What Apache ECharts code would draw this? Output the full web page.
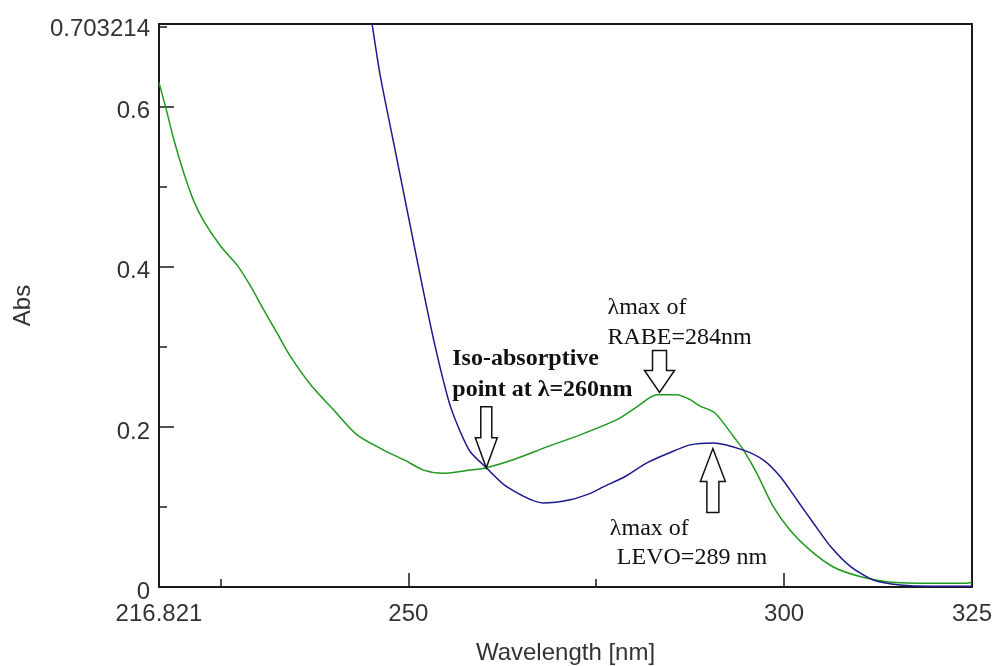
<!DOCTYPE html>
<html>
<head>
<meta charset="utf-8">
<title>RABE / LEVO overlain spectra</title>
<script src="https://cdn.jsdelivr.net/npm/echarts@6/dist/echarts.min.js"></script>
<style>
  html, body { margin: 0; padding: 0; background: #fff; }
  #chart { width: 994px; height: 666px; }
</style>
</head>
<body>
<div id="chart"></div>
<script>
// RABE spectrum (green)
var rabeWl = [216.82, 217.69, 218.79, 220.12, 221.45, 222.78, 225.0, 227.22, 228.99, 230.76,
  232.54, 234.31, 236.97, 240.07, 243.18, 246.71, 249.38, 252.04, 254.69, 258.24,
  260.37, 263.96, 268.44, 272.87, 277.75, 280.4, 283.07, 285.73, 287.5, 288.83,
  290.56, 291.5, 293.26, 294.6, 296.37, 298.58, 300.8, 303.45, 306.55, 310.1,
  313.65, 319.85, 324.3, 325];
var rabeAbs = [0.630, 0.600, 0.559, 0.517, 0.482, 0.457, 0.426, 0.402, 0.376, 0.346,
  0.317, 0.288, 0.253, 0.221, 0.190, 0.171, 0.159, 0.146, 0.142, 0.146,
  0.149, 0.159, 0.175, 0.190, 0.209, 0.225, 0.240, 0.240, 0.234, 0.226,
  0.219, 0.210, 0.188, 0.171, 0.142, 0.100, 0.071, 0.046, 0.025, 0.013,
  0.0066, 0.0046, 0.0046, 0.006];

// LEVO spectrum (blue)
var levoWl = [244.0, 245.17, 246.27, 248.04, 249.83, 251.6, 253.46, 255.45, 256.91, 258.24,
  260.37, 263.13, 267.95, 271.54, 274.2, 275.93, 278.85, 281.74, 284.6, 287.5,
  290.56, 294.59, 297.25, 299.47, 301.69, 303.89, 306.19, 308.85, 311.87, 315.45,
  319.85, 325];
var levoAbs = [0.773, 0.7034, 0.638, 0.555, 0.471, 0.388, 0.305, 0.230, 0.194, 0.169,
  0.149, 0.125, 0.105, 0.109, 0.117, 0.125, 0.138, 0.155, 0.167, 0.1775,
  0.180, 0.171, 0.1585, 0.138, 0.109, 0.080, 0.0505, 0.0254, 0.0088, 0.0025,
  0.001, 0.001];

// axis ticks and labels
var xMin = 216.821, xMax = 325;
var yMin = 0, yMax = 0.703214;
var xLabelValues = [216.821, 250, 300, 325];
var xMajorTicks = [250, 300];
var xMinorTicks = [225, 275];
var yLabelValues = [0, 0.2, 0.4, 0.6, 0.703214];
var yMajorTicks = [0.2, 0.4, 0.6];
var yMinorTicks = [0.1, 0.3, 0.5, 0.7];

// annotation anchors (arrow tips, in data units)
var isoPoint = [260.37, 0.149];
var rabeMax = [283.42, 0.243];
var levoMax = [290.52, 0.173];

function zip(xs, ys) {
  var out = [];
  for (var i = 0; i < xs.length; i++) out.push([xs[i], ys[i]]);
  return out;
}

var axisColor = '#1a1a1a';
var labelFont = { fontSize: 24, fontFamily: '"Liberation Sans", Arial, sans-serif', color: '#333' };

var chart = echarts.init(document.getElementById('chart'), null, { renderer: 'canvas' });

var option = {
  animation: false,
  backgroundColor: '#fff',
  grid: {
    left: 159, right: 22, top: 24, bottom: 79,
    outerBoundsMode: 'none', containLabel: false,
    show: true, borderColor: axisColor, borderWidth: 2, backgroundColor: 'transparent'
  },
  xAxis: [
    {
      type: 'value', min: xMin, max: xMax, position: 'bottom',
      axisLine: { show: false }, splitLine: { show: false },
      axisTick: { show: true, inside: true, length: 14, customValues: xMajorTicks,
        lineStyle: { color: axisColor, width: 1.5 } },
      axisLabel: Object.assign({ customValues: xLabelValues, margin: 15,
        formatter: function (v) { return String(v); } }, labelFont),
      name: 'Wavelength [nm]', nameLocation: 'middle', nameGap: 54,
      nameTextStyle: labelFont
    },
    {
      type: 'value', min: xMin, max: xMax, position: 'bottom',
      axisLine: { show: false }, splitLine: { show: false }, axisLabel: { show: false },
      axisTick: { show: true, inside: true, length: 8, customValues: xMinorTicks,
        lineStyle: { color: axisColor, width: 1.5 } }
    }
  ],
  yAxis: [
    {
      type: 'value', min: yMin, max: yMax, position: 'left',
      axisLine: { show: false }, splitLine: { show: false },
      axisTick: { show: true, inside: true, length: 15, customValues: yMajorTicks,
        lineStyle: { color: axisColor, width: 1.5 } },
      axisLabel: Object.assign({ customValues: yLabelValues, margin: 9,
        verticalAlign: 'top', lineHeight: 10,
        formatter: function (v) { return String(v); } }, labelFont),
      name: 'Abs', nameLocation: 'middle', nameGap: 124, nameRotate: 90,
      nameTextStyle: labelFont
    },
    {
      type: 'value', min: yMin, max: yMax, position: 'left',
      axisLine: { show: false }, splitLine: { show: false }, axisLabel: { show: false },
      axisTick: { show: true, inside: true, length: 8, customValues: yMinorTicks,
        lineStyle: { color: axisColor, width: 1.5 } }
    }
  ],
  series: [
    {
      name: 'RABE', type: 'line', xAxisIndex: 0, yAxisIndex: 0,
      data: zip(rabeWl, rabeAbs), showSymbol: false, smooth: 0.25, clip: true,
      lineStyle: { color: '#1f991f', width: 1.5 }
    },
    {
      name: 'LEVO', type: 'line', xAxisIndex: 0, yAxisIndex: 0,
      data: zip(levoWl, levoAbs), showSymbol: false, smooth: 0.25, clip: true,
      lineStyle: { color: '#1a1a8c', width: 1.5 }
    }
  ]
};
chart.setOption(option);

// hollow block arrow; dir = 1 points down, -1 points up
function blockArrow(tip, len, headLen, shaftHalf, headHalf, dir) {
  var tx = tip[0], ty = tip[1];
  var b = ty - dir * len, h = ty - dir * headLen;
  return {
    type: 'polygon', z: 100,
    shape: { points: [[tx - shaftHalf, b], [tx + shaftHalf, b], [tx + shaftHalf, h],
      [tx + headHalf, h], [tx, ty], [tx - headHalf, h], [tx - shaftHalf, h]] },
    style: { fill: '#fff', stroke: '#111', lineWidth: 1.5 }
  };
}

function label(text, x, y, bold) {
  return {
    type: 'text', z: 100, x: x, y: y,
    style: { text: text, fill: '#111', textAlign: 'left', textVerticalAlign: 'middle',
      font: (bold ? 'bold ' : '') + '24px "Liberation Serif", "Times New Roman", serif' }
  };
}

var pIso = chart.convertToPixel({ xAxisIndex: 0, yAxisIndex: 0 }, isoPoint);
var pRabe = chart.convertToPixel({ xAxisIndex: 0, yAxisIndex: 0 }, rabeMax);
var pLevo = chart.convertToPixel({ xAxisIndex: 0, yAxisIndex: 0 }, levoMax);

chart.setOption({
  graphic: [
    blockArrow(pIso, 61, 30, 5.5, 11, 1),
    blockArrow(pRabe, 42, 22, 7, 15, 1),
    blockArrow(pLevo, 64, 33, 6, 12.5, -1),
    label('Iso-absorptive', pIso[0] - 34, pIso[1] - 109, true),
    label('point at \u03bb=260nm', pIso[0] - 34, pIso[1] - 78, true),
    label('\u03bbmax of', pRabe[0] - 52, pRabe[1] - 85, false),
    label('RABE=284nm', pRabe[0] - 52, pRabe[1] - 55, false),
    label('\u03bbmax of', pLevo[0] - 103, pLevo[1] + 80, false),
    label('LEVO=289 nm', pLevo[0] - 96, pLevo[1] + 109, false)
  ]
});
</script>
</body>
</html>
